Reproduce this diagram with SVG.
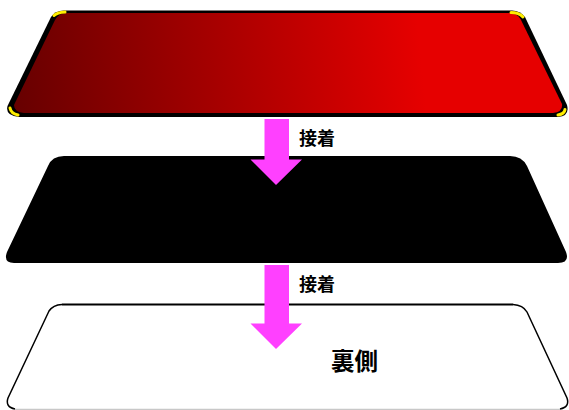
<svg xmlns="http://www.w3.org/2000/svg" width="569" height="410" viewBox="0 0 569 410">
<style>
.lbl{font-family:"Noto Sans CJK JP","Liberation Sans",sans-serif;font-weight:700;fill:#000}
.arrow{fill:#ff40ff}
.cap{fill:none;stroke:#ffee00;stroke-width:3;stroke-linecap:round}
</style>
<defs>
<linearGradient id="red" gradientUnits="userSpaceOnUse" x1="10" y1="85" x2="420" y2="45">
<stop offset="0" stop-color="#660000"/>
<stop offset="1" stop-color="#e60000"/>
</linearGradient>
</defs>
<rect width="569" height="410" fill="#fff"/>
<g id="top-layer">
<path d="M64 10.500H512Q520 10.500 525 17L567 105Q570 116 558 117H19Q5 116 7.500 106L51 17Q55 10.500 64 10.500Z" fill="#000"/>
<path d="M66 13H510Q517 13.500 520.500 19L562 104Q563 112 553 113H24Q14 112 14 105L55 20Q59 13 66 13Z" fill="url(#red)"/>
<path class="cap" d="M54 15.500Q57 12.500 65 12"/>
<path class="cap" d="M511 12.500Q519 12.500 523 17"/>
<path class="cap" d="M10 108Q11 113.500 18 115"/>
<path class="cap" d="M565 109.500Q564.500 114 558 115"/>
</g>
<g id="middle-layer">
<path d="M64 156H510Q522 156 527 166L566 252Q570 263 558 263H14Q3 263 7 252L48 166Q52 156 64 156Z" fill="#000"/>
</g>
<g id="bottom-layer">
<path d="M15 409.300H560" fill="none" stroke="#bbb" stroke-width="1"/>
<path d="M62 304.500H513" fill="none" stroke="#000" stroke-width="2.200"/>
<path d="M62 304.500Q53 305 49 311L8 398Q5 407 15 409M513 304.500Q523 305 527 312L567 398Q570 407 560 409" fill="none" stroke="#000" stroke-width="1.500"/>
</g>
<g id="connectors">
<path class="arrow" d="M264.500 119H289V159.500H302L276 185L250.500 159.500H264.500Z"/>
<path class="arrow" d="M264.500 265H289V323.500H302L276 349L250.500 323.500H264.500Z"/>
</g>
<g id="labels">
<text class="lbl" x="299" y="145" font-size="18">接着</text>
<text class="lbl" x="299" y="291" font-size="18">接着</text>
<text class="lbl" x="331" y="370" font-size="23.500">裏側</text>
</g>
</svg>
